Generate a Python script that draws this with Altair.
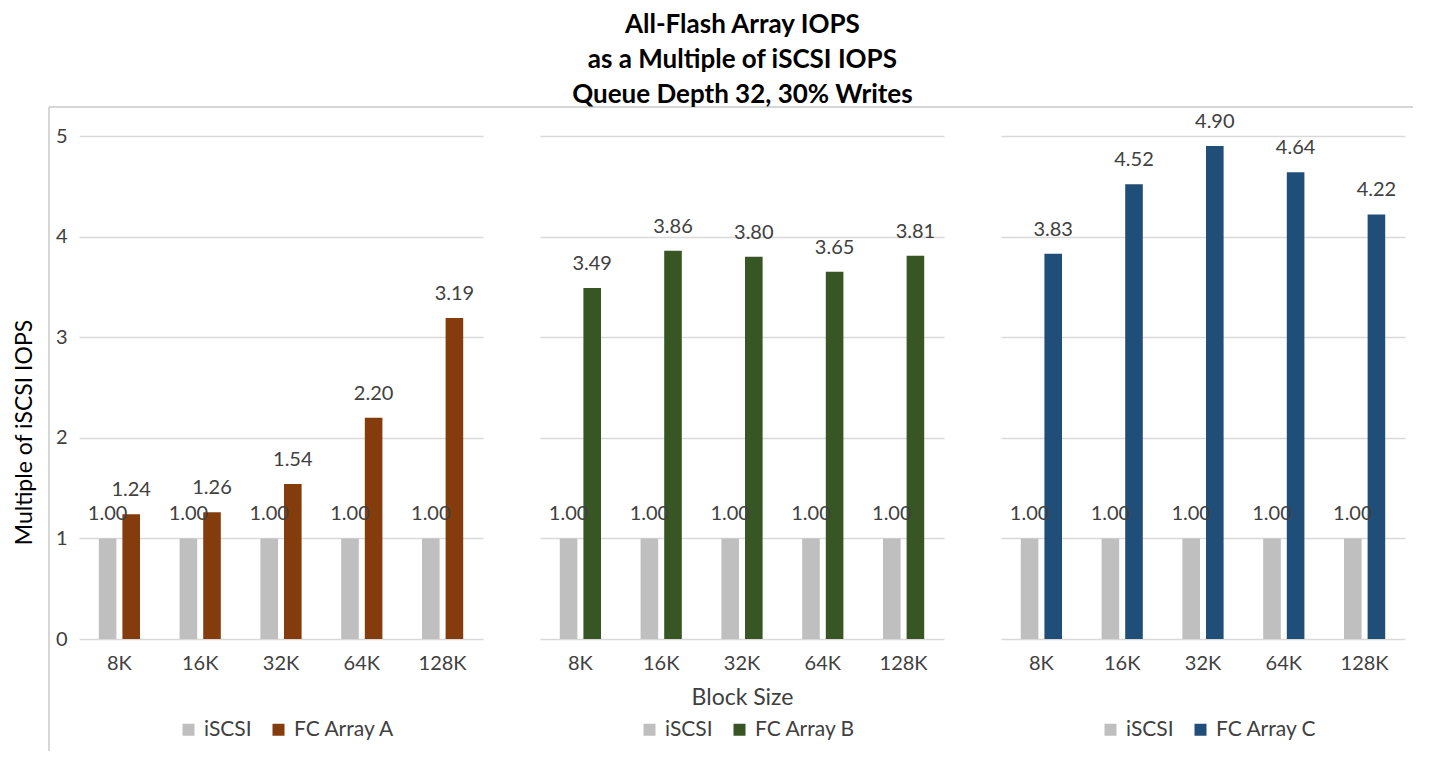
import altair as alt
import pandas as pd

blocks = ["8K", "16K", "32K", "64K", "128K"]
iscsi = [1.00, 1.00, 1.00, 1.00, 1.00]
fc_a = [1.24, 1.26, 1.54, 2.20, 3.19]
fc_b = [3.49, 3.86, 3.80, 3.65, 3.81]
fc_c = [3.83, 4.52, 4.90, 4.64, 4.22]
series_names = ["FC Array A", "FC Array B", "FC Array C"]
series_colors = ["#843C0C", "#375623", "#1F4E79"]
grey = "#BFBFBF"

W, H = 404, 503
FONT = "Lato"
TXT = "#404040"


def make_df(name, vals):
    rows = []
    for b, v0, v1 in zip(blocks, iscsi, vals):
        rows.append({"block": b, "kind": "a", "series": "iSCSI", "value": v0})
        rows.append({"block": b, "kind": "b", "series": name, "value": v1})
    return pd.DataFrame(rows)


def panel(idx, vals):
    name = series_names[idx]
    df = make_df(name, vals)
    if idx == 0:
        yaxis = alt.Axis(values=[0, 1, 2, 3, 4, 5], grid=True, domain=False, ticks=False,
                         labelFontSize=20, labelPadding=12, labelColor=TXT,
                         title="Multiple  of iSCSI IOPS", titleFontSize=23,
                         titleFontWeight="normal", titleColor="#000000",
                         titleX=-43, titleY=296, titleBaseline="bottom")
    else:
        yaxis = alt.Axis(values=[0, 1, 2, 3, 4, 5], grid=True, domain=False, ticks=False,
                         labels=False, title=None)
    xaxis_kwargs = dict(labelAngle=0, domain=False, ticks=False, labelFontSize=20,
                        labelPadding=14, labelColor=TXT)
    if idx == 1:
        xaxis = alt.Axis(title="Block Size", titleFontSize=23, titleFontWeight="normal",
                         titleColor=TXT, titlePadding=13, **xaxis_kwargs)
    else:
        xaxis = alt.Axis(title=None, **xaxis_kwargs)

    base = alt.Chart(df).encode(
        x=alt.X("block:N", sort=blocks, axis=xaxis,
                scale=alt.Scale(paddingInner=0.49, paddingOuter=0.245)),
        xOffset=alt.XOffset("kind:N", sort=["a", "b"],
                            scale=alt.Scale(paddingInner=0.255, paddingOuter=0)),
        y=alt.Y("value:Q", axis=yaxis, scale=alt.Scale(domain=[0, 5], nice=False)),
    )
    bars = base.mark_bar().encode(
        color=alt.Color("series:N",
                        scale=alt.Scale(domain=["iSCSI", name], range=[grey, series_colors[idx]]),
                        legend=alt.Legend(orient="none", legendX=99, legendY=583,
                                          direction="horizontal", columns=2, title=None,
                                          symbolType="square", symbolSize=144,
                                          symbolStrokeWidth=0, labelFontSize=21,
                                          labelColor=TXT, labelOffset=5,
                                          columnPadding=16, padding=0))
    )
    labels = base.mark_text(baseline="alphabetic", dy=-18, fontSize=20, color=TXT).encode(
        text=alt.Text("value:Q", format=".2f")
    )
    layers = [bars, labels]
    if idx == 0:
        fdf = pd.DataFrame({"f": [0]})
        left_frame = alt.Chart(fdf).mark_rule(color="#C8C8C8", strokeWidth=1.5, clip=False).encode(
            x=alt.value(-30), y=alt.value(-29), y2=alt.value(H + 112))
        top_frame = alt.Chart(fdf).mark_rule(color="#C8C8C8", strokeWidth=1.5, clip=False).encode(
            x=alt.value(-30), x2=alt.value(1334), y=alt.value(-29))
        layers += [left_frame, top_frame]
    return alt.layer(*layers).properties(width=W, height=H).resolve_scale(color="independent")


charts = [panel(0, fc_a), panel(1, fc_b), panel(2, fc_c)]

chart = alt.hconcat(*charts, spacing=57, bounds="flush").resolve_scale(
    color="independent", y="independent", x="independent", xOffset="independent"
).properties(
    title=alt.TitleParams(
        text=["All-Flash Array IOPS", "as a Multiple of iSCSI IOPS", "Queue Depth 32, 30% Writes"],
        fontSize=26, fontWeight="bold", font=FONT, color="#000000", lineHeight=35,
        anchor="middle", frame="bounds", offset=-2, dx=29),
    padding={"left": 5, "top": 4, "right": 3, "bottom": 0},
).configure(font=FONT).configure_view(stroke=None).configure_axis(
    gridColor="#D9D9D9", gridWidth=1.5, labelFont=FONT, titleFont=FONT
).configure_legend(labelFont=FONT)

chart.save("out.html", embed_options={"renderer": "svg", "actions": False})
